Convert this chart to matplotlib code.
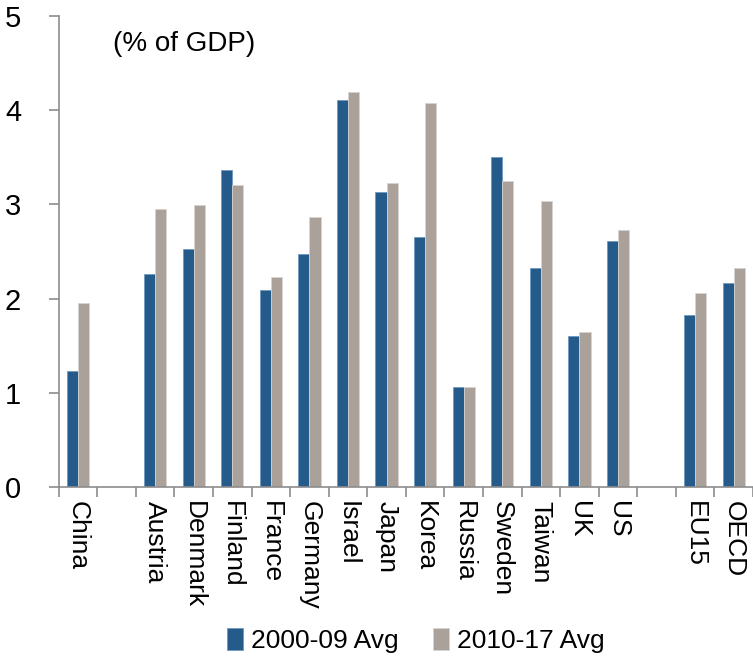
# R&D spending chart, % of GDP
import numpy as np
import matplotlib.pyplot as plt

# Data (blank strings are gaps between groups)
countries = ['China', '', 'Austria', 'Denmark', 'Finland', 'France', 'Germany', 'Israel',
             'Japan', 'Korea', 'Russia', 'Sweden', 'Taiwan', 'UK', 'US', '', 'EU15', 'OECD']
avg_2000_09 = [1.23, np.nan, 2.26, 2.53, 3.36, 2.09, 2.47, 4.11,
               3.13, 2.65, 1.06, 3.50, 2.32, 1.60, 2.61, np.nan, 1.82, 2.17]
avg_2010_17 = [1.95, np.nan, 2.95, 2.99, 3.20, 2.23, 2.86, 4.19,
               3.23, 4.08, 1.06, 3.25, 3.03, 1.65, 2.73, np.nan, 2.06, 2.32]
series_labels = ['2000-09 Avg', '2010-17 Avg']

plt.rcParams['font.family'] = ['Liberation Sans', 'DejaVu Sans']

fig = plt.figure(figsize=(7.53, 6.59), dpi=100)
ax = fig.add_axes([0.078, 0.261, 0.922, 0.715])

x = np.arange(len(countries))
w = 0.29
b1 = ax.bar(x - w / 2, avg_2000_09, width=w, color='#255b8a', edgecolor='#6e9ac0', linewidth=0.6,
            label=series_labels[0])
b2 = ax.bar(x + w / 2, avg_2010_17, width=w, color='#a9a19a', edgecolor='#d8d3ce', linewidth=0.6,
            label=series_labels[1])

ax.set_xlim(-0.5, len(countries) - 0.5)
ax.set_ylim(0, 5)
ax.set_yticks(range(6))
ax.tick_params(axis='y', labelsize=21, length=7, width=1.2, color='#8c8c8c', pad=20)

# labels at slot centres, tick marks at slot boundaries
ax.set_xticks(x)
ax.set_xticklabels(countries, rotation=270, ha='center', va='top', fontsize=19)
ax.tick_params(axis='x', which='major', length=0, pad=10)
ax.set_xticks(np.arange(len(countries) + 1) - 0.5, minor=True)
ax.tick_params(axis='x', which='minor', length=7, width=1.2, color='#8c8c8c')

for s in ['top', 'right']:
    ax.spines[s].set_visible(False)
for s in ['left', 'bottom']:
    ax.spines[s].set_color('#8c8c8c')
    ax.spines[s].set_linewidth(1.2)

ax.text(0.078, 0.94, '(% of GDP)', transform=ax.transAxes, fontsize=20, va='center', ha='left')

fig.legend(handles=[b1, b2], loc='center', bbox_to_anchor=(0.552, 0.028), ncol=2, frameon=False,
           fontsize=19, handlelength=0.6, handleheight=0.9, handletextpad=0.3, columnspacing=1.3)

plt.savefig('out.png')
